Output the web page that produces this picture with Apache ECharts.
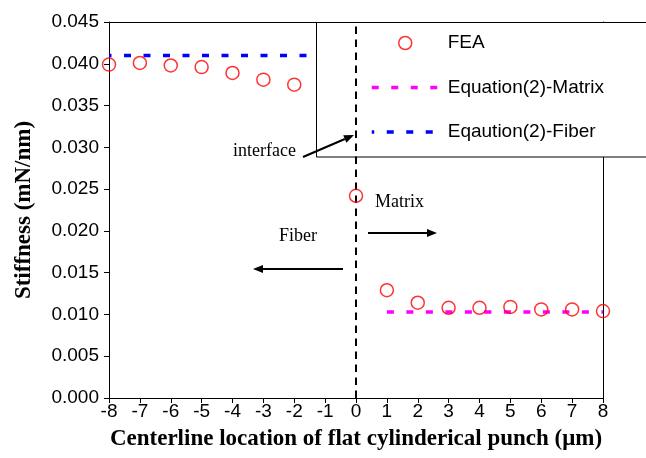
<!DOCTYPE html>
<html>
<head>
<meta charset="utf-8">
<script src="https://cdn.jsdelivr.net/npm/echarts@6/dist/echarts.min.js"></script>
<style>
html,body{margin:0;padding:0;background:#fff;}
#chart{width:646px;height:458px;}
</style>
</head>
<body>
<div id="chart"></div>
<script>
// ---- data ----
const feaX = [-8, -7, -6, -5, -4, -3, -2, 0, 1, 2, 3, 4, 5, 6, 7, 8];
const feaY = [0.0399, 0.0401, 0.0398, 0.0396, 0.0389, 0.0381, 0.0375, 0.0242, 0.0129, 0.0114, 0.0108, 0.0108, 0.0109, 0.0106, 0.0106, 0.0104];
const matrixX = [1, 2, 3, 4, 5, 6, 7, 8];
const matrixY = [0.0103, 0.0103, 0.0103, 0.0103, 0.0103, 0.0103, 0.0103, 0.0103];
const fiberX = [-8, -7, -6, -5, -4, -3, -2, -1, 0];
const fiberY = [0.041, 0.041, 0.041, 0.041, 0.041, 0.041, 0.041, 0.041, 0.041];
const interfaceX = [0, 0];
const interfaceY = [0, 0.045];
const seriesNames = ['FEA', 'Equation(2)-Matrix', 'Eqaution(2)-Fiber'];
const xTitle = 'Centerline location of flat cylinderical punch (\u03bcm)';
const yTitle = 'Stiffness (mN/nm)';
const annotations = ['interface', 'Matrix', 'Fiber'];

const zip = (xs, ys) => xs.map((x, i) => [x, ys[i]]);

const sans = '"Liberation Sans", Arial, sans-serif';
const serif = '"Liberation Serif", "Times New Roman", serif';

const chart = echarts.init(document.getElementById('chart'), null, {renderer: 'canvas'});

const arrow = (x1, y1, x2, y2) => {
  const len = 10, hw = 4;
  const dx = x2 - x1, dy = y2 - y1;
  const d = Math.sqrt(dx * dx + dy * dy);
  const ux = dx / d, uy = dy / d;
  const bx = x2 - ux * len, by = y2 - uy * len;
  return [
    {type: 'line', z: 20, shape: {x1: x1, y1: y1, x2: bx, y2: by}, style: {stroke: '#000', lineWidth: 2}},
    {type: 'polygon', z: 20, shape: {points: [[x2, y2], [bx - uy * hw, by + ux * hw], [bx + uy * hw, by - ux * hw]]}, style: {fill: '#000'}}
  ];
};

const option = {
  animation: false,
  backgroundColor: '#fff',
  grid: {left: 109, right: 43, top: 22, bottom: 60, containLabel: false},
  xAxis: [{
    type: 'value', min: -8, max: 8, interval: 1, position: 'bottom',
    axisLine: {show: true, onZero: false, lineStyle: {color: '#000', width: 1}},
    axisTick: {show: true, inside: false, length: 5, lineStyle: {color: '#000'}},
    splitLine: {show: false},
    axisLabel: {fontSize: 19, fontFamily: sans, color: '#000', margin: 4},
    name: xTitle, nameLocation: 'middle', nameGap: 30,
    nameTextStyle: {fontSize: 23, fontFamily: serif, fontWeight: 'bold', color: '#000'}
  }, {
    type: 'value', min: -8, max: 8, interval: 1, position: 'top',
    axisLine: {show: true, onZero: false, lineStyle: {color: '#000', width: 1}},
    axisTick: {show: false}, axisLabel: {show: false}, splitLine: {show: false}
  }],
  yAxis: [{
    type: 'value', min: 0, max: 0.045, interval: 0.005, position: 'left',
    axisLine: {show: true, onZero: false, lineStyle: {color: '#000', width: 1}},
    axisTick: {show: true, inside: false, length: 5, lineStyle: {color: '#000'}},
    splitLine: {show: false},
    axisLabel: {fontSize: 19, fontFamily: sans, color: '#000', margin: 10, formatter: v => v.toFixed(3)},
    name: yTitle, nameLocation: 'middle', nameGap: 73,
    nameTextStyle: {fontSize: 23, fontFamily: serif, fontWeight: 'bold', color: '#000'}
  }, {
    type: 'value', min: 0, max: 0.045, interval: 0.005, position: 'right',
    axisLine: {show: true, onZero: false, lineStyle: {color: '#000', width: 1}},
    axisTick: {show: false}, axisLabel: {show: false}, splitLine: {show: false}
  }],
  legend: {
    orient: 'vertical', left: 316, top: 22,
    padding: [11, 20, 15, 54],
    itemWidth: 67, itemHeight: 13, itemGap: 24.5,
    backgroundColor: 'transparent', borderWidth: 0,
    textStyle: {fontSize: 19, fontFamily: sans, color: '#000', lineHeight: 20, padding: [0, 0, 0, 4]},
    lineStyle: {width: 3.5},
    itemStyle: {borderWidth: 1.5},
    data: [
      {name: seriesNames[0]},
      {name: seriesNames[1], itemStyle: {opacity: 0}},
      {name: seriesNames[2], itemStyle: {opacity: 0}}
    ],
    selectedMode: false
  },
  series: [{
    name: seriesNames[1], type: 'line', data: zip(matrixX, matrixY),
    symbol: 'none', showSymbol: false,
    lineStyle: {color: '#ff00ff', width: 3.5, type: [7, 12.5], dashOffset: 0},
    itemStyle: {color: '#ff00ff'}, z: 2
  }, {
    name: seriesNames[2], type: 'line', data: zip(fiberX, fiberY),
    symbol: 'none', showSymbol: false,
    lineStyle: {color: '#0000ff', width: 3.5, type: [7, 12.5], dashOffset: 4.5},
    itemStyle: {color: '#0000ff'}, z: 2
  }, {
    name: 'interface-line', type: 'line', data: zip(interfaceX, interfaceY),
    symbol: 'none', showSymbol: false,
    lineStyle: {color: '#000', width: 2, type: [7.5, 5.5]}, z: 10, silent: true
  }, {
    name: seriesNames[0], type: 'scatter', data: zip(feaX, feaY),
    symbol: 'circle', symbolSize: 13,
    itemStyle: {color: 'rgba(255,255,255,0)', borderColor: '#ff0000', borderWidth: 1.5},
    z: 11
  }],
  graphic: [
    {type: 'rect', z: 3, shape: {x: 316.5, y: 22.5, width: 420, height: 134.5},
     style: {fill: '#fff', stroke: '#000', lineWidth: 1}},
    {type: 'text', z: 20, left: 233, top: 142, style: {text: annotations[0], font: '18px ' + serif, fill: '#000'}},
    {type: 'text', z: 20, left: 375, top: 193, style: {text: annotations[1], font: '18px ' + serif, fill: '#000'}},
    {type: 'text', z: 20, left: 279, top: 227, style: {text: annotations[2], font: '18px ' + serif, fill: '#000'}}
  ].concat(arrow(303, 157, 354, 135), arrow(368, 233, 437, 233), arrow(343, 269, 253, 269))
};

chart.setOption(option);
</script>
</body>
</html>
